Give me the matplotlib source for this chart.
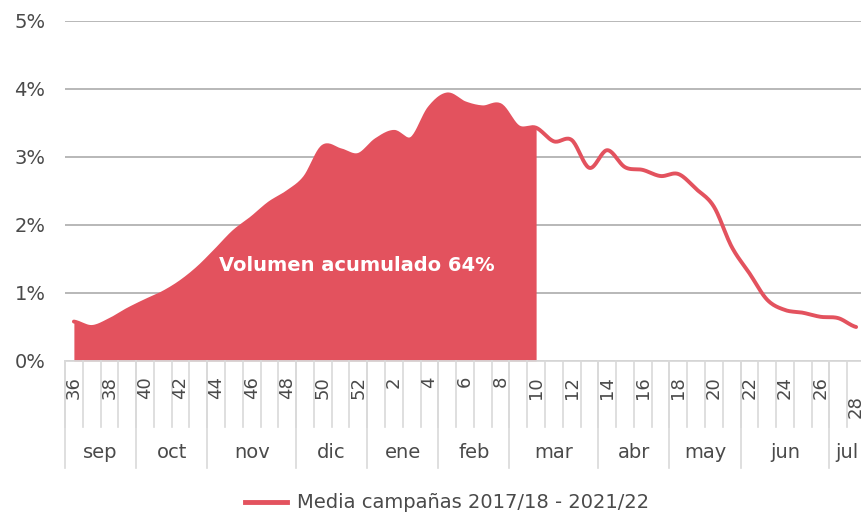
import numpy as np
import matplotlib
matplotlib.use("Agg")
import matplotlib.pyplot as plt
from matplotlib.lines import Line2D

# weekly data, season week 36 -> week 28
weeks = [36, 37, 38, 39, 40, 41, 42, 43, 44, 45, 46, 47, 48, 49, 50, 51, 52,
         1, 2, 3, 4, 5, 6, 7, 8, 9, 10, 11, 12, 13, 14, 15, 16, 17, 18, 19, 20,
         21, 22, 23, 24, 25, 26, 27, 28]
media = [0.58, 0.50, 0.60, 0.75, 0.88, 1.00, 1.16, 1.37, 1.63, 1.90, 2.10, 2.32,
         2.48, 2.70, 3.15, 3.10, 3.03, 3.25, 3.37, 3.27, 3.72, 3.92, 3.79, 3.73,
         3.76, 3.44, 3.43, 3.23, 3.25, 2.84, 3.10, 2.85, 2.81, 2.72, 2.75, 2.53,
         2.27, 1.68, 1.29, 0.90, 0.75, 0.71, 0.65, 0.63, 0.50]
months = ['sep', 'oct', 'nov', 'dic', 'ene', 'feb', 'mar', 'abr', 'may', 'jun', 'jul']
weeks_per_month = [4, 4, 5, 4, 4, 4, 5, 4, 4, 5, 2]
last_acum_week = 10
label_acum = 'Volumen acumulado 64%'
legend_label = 'Media campañas 2017/18 - 2021/22'

RED = '#E3525E'
GRID = '#B8B8B8'
SEP = '#D9D9D9'
TXT = '#4A4A4A'

plt.rcParams['font.family'] = ['DejaVu Sans']


def smooth(y, n=20):
    # catmull-rom style curve, like excel's smoothed line
    y = np.asarray(y, float)
    p = np.concatenate([[y[0]], y, [y[-1]]])
    xs, ys = [], []
    for i in range(len(y) - 1):
        p0, p1, p2, p3 = p[i], p[i + 1], p[i + 2], p[i + 3]
        t = np.linspace(0, 1, n, endpoint=False)
        yy = 0.5 * (2 * p1 + (-p0 + p2) * t + (2 * p0 - 5 * p1 + 4 * p2 - p3) * t ** 2
                    + (-p0 + 3 * p1 - 3 * p2 + p3) * t ** 3)
        xs.append(i + t)
        ys.append(yy)
    xs.append([len(y) - 1])
    ys.append([y[-1]])
    return np.concatenate(xs), np.concatenate(ys)


W, H = 861, 517
fig = plt.figure(figsize=(W / 100, H / 100), dpi=100)
left = 65 / W
width = 800 / W
ax = fig.add_axes([left, (H - 361) / H, width, 340 / H])

xs, ys = smooth(media)
cut = weeks.index(last_acum_week)
m = xs <= cut
ax.fill_between(xs[m], 0, ys[m], color=RED, lw=0, zorder=2)
ax.plot(xs, ys, color=RED, lw=2.8, zorder=3, solid_capstyle='round')

ax.set_xlim(-0.5, len(weeks) - 0.5)
ax.set_ylim(0, 5)
ax.set_yticks([0, 1, 2, 3, 4, 5])
ax.set_yticklabels([f'{v}%' for v in range(6)], fontsize=14, color=TXT)
ax.tick_params(axis='y', length=0, pad=14)
ax.set_xticks([])
ax.grid(axis='y', color=GRID, lw=1.4, zorder=0)
for s in ['top', 'right', 'left']:
    ax.spines[s].set_visible(False)
ax.spines['bottom'].set_color(SEP)
ax.spines['bottom'].set_linewidth(1.3)

ax.text(15.9, 1.4, label_acum, color='white', fontsize=14,
        fontweight='bold', ha='center', va='center', zorder=4)

# category axis (weeks + months)
cx = fig.add_axes([left, (H - 468) / H, width, 107 / H])
cx.set_xlim(-0.5, len(weeks) - 0.5)
cx.set_ylim(107, 0)
cx.axis('off')
for k in range(len(weeks)):
    cx.plot([k - 0.5, k - 0.5], [0, 66], color=SEP, lw=1.2, clip_on=False)
    if k % 2 == 0:
        top = 15 if k < len(weeks) - 1 else 34
        cx.text(k, top, str(weeks[k]), rotation=90, ha='center', va='top',
                fontsize=13, color=TXT, clip_on=False)
start = 0
for mo, n in zip(months, weeks_per_month):
    cx.plot([start - 0.5, start - 0.5], [0, 107], color=SEP, lw=1.2, clip_on=False)
    cx.text(start - 0.5 + n / 2, 91, mo, ha='center', va='center', fontsize=14,
            color=TXT, clip_on=False)
    start += n

handle = Line2D([], [], color=RED, lw=3.5)
fig.legend(handles=[handle], labels=[legend_label], loc='center',
           bbox_to_anchor=(447 / W, 1 - 503 / H), frameon=False, fontsize=14,
           handlelength=2.2, handletextpad=0.5, labelcolor=TXT)

fig.savefig('out.png', dpi=100)
